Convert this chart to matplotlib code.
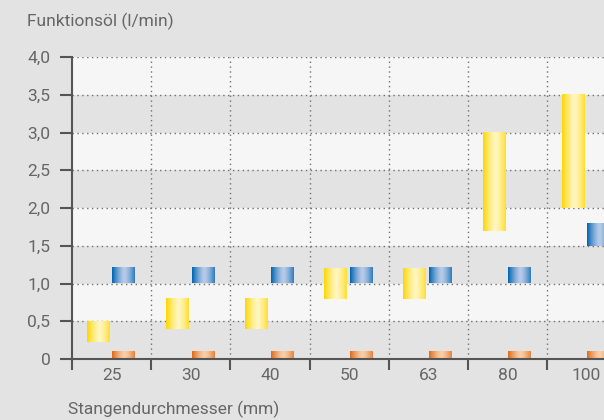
import numpy as np
import matplotlib
matplotlib.use("Agg")
import matplotlib.pyplot as plt
from matplotlib.colors import to_rgb

categories = ["25", "30", "40", "50", "63", "80", "100"]
yellow_low = [0.23, 0.4, 0.4, 0.8, 0.8, 1.7, 2.0]
yellow_high = [0.5, 0.8, 0.8, 1.2, 1.2, 3.0, 3.5]
blue_low = [1.0, 1.0, 1.0, 1.0, 1.0, 1.0, 1.5]
blue_high = [1.2, 1.2, 1.2, 1.2, 1.2, 1.2, 1.8]
orange_low = [0, 0, 0, 0, 0, 0, 0]
orange_high = [0.1, 0.1, 0.1, 0.1, 0.1, 0.1, 0.1]
y_ticks = [0, 0.5, 1.0, 1.5, 2.0, 2.5, 3.0, 3.5, 4.0]
y_tick_labels = ["0", "0,5", "1,0", "1,5", "2,0", "2,5", "3,0", "3,5", "4,0"]

plt.rcParams['font.family'] = ['Roboto', 'DejaVu Sans']
BG = "#e3e3e3"
LIGHT = "#f6f6f6"
TXT = "#666666"
FS = 12.5

fig = plt.figure(figsize=(6.04, 4.2), dpi=100, facecolor=BG)
ax = fig.add_axes([72/604, 61/420, 1 - 72/604, 302/420])
ax.set_facecolor(BG)

# bands
for i in range(len(y_ticks) - 1):
    if i % 2 == 1:
        ax.axhspan(y_ticks[i], y_ticks[i+1], color=LIGHT, zorder=0, lw=0)

def grad(edge, light, n=64):
    t = np.linspace(0, 1, n)
    s = 1 - np.clip(np.abs(t - 0.55) / 0.55, 0, 1) ** 1.4
    e = np.array(to_rgb(edge)); l = np.array(to_rgb(light))
    cols = e[None, :] * (1 - s[:, None]) + l[None, :] * s[:, None]
    return cols[None, :, :]

g_y = grad("#ffd600", "#fff6c0")
g_b = grad("#0064b0", "#b8cbe9")
g_o = grad("#e06a18", "#f9cfa8")

w = 0.285
for i in range(len(categories)):
    xy = i + 0.186
    xb = i + 0.51
    ax.imshow(g_y, extent=[xy, xy + w, yellow_low[i], yellow_high[i]], aspect='auto', zorder=3, interpolation='bilinear')
    ax.imshow(g_b, extent=[xb, xb + w, blue_low[i], blue_high[i]], aspect='auto', zorder=3, interpolation='bilinear')
    ax.imshow(g_o, extent=[xb, xb + w, orange_low[i], orange_high[i]], aspect='auto', zorder=3, interpolation='bilinear')

# grid
for y in y_ticks[1:]:
    ax.axhline(y, color="#707070", lw=1.0, ls=(0, (1, 2.5)), zorder=2)
for x in range(1, len(categories)):
    ax.axvline(x, color="#707070", lw=1.0, ls=(0, (1, 2.5)), zorder=2)

ax.set_yticks(y_ticks)
ax.set_yticklabels(y_tick_labels)
ax.set_xticks(range(0, len(categories) + 1))
ax.set_xticklabels([])
ax.set_xticks([i + 0.5 for i in range(len(categories))], minor=True)
ax.set_xticklabels(categories, minor=True)
ax.tick_params(axis='y', length=8.6, width=1.5, color="#555555", labelsize=FS, labelcolor=TXT, pad=7)
ax.tick_params(axis='x', which='major', length=8, width=1.5, color="#555555")
ax.tick_params(axis='x', which='minor', length=0, labelsize=FS, labelcolor=TXT, pad=6.5)

ax.set_xlim(0, 532 / 79.17)
ax.set_ylim(0, 4.0)

for s in ['top', 'right']:
    ax.spines[s].set_visible(False)
for s in ['left', 'bottom']:
    ax.spines[s].set_color("#555555")
    ax.spines[s].set_linewidth(1.5)
    ax.spines[s].set_zorder(5)

fig.text(27/604, 1 - 26.5/420, "Funktionsöl (l/min)", ha='left', va='baseline', fontsize=FS, color=TXT)
fig.text(68/604, 1 - 414.5/420, "Stangendurchmesser (mm)", ha='left', va='baseline', fontsize=FS, color=TXT)

fig.savefig("out.png", dpi=100, facecolor=BG)
